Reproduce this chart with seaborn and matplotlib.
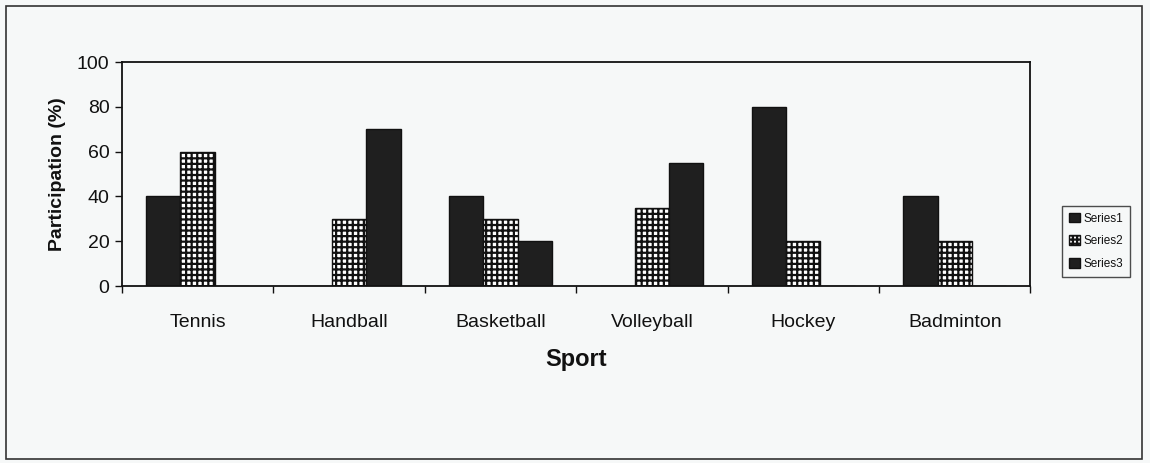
import matplotlib
matplotlib.use("Agg")
import matplotlib.pyplot as plt
from matplotlib.patches import Patch, Rectangle
import pandas as pd
import seaborn as sns

sports = ["Tennis", "Handball", "Basketball", "Volleyball", "Hockey", "Badminton"]
series1 = [40, 0, 40, 0, 80, 40]
series2 = [60, 30, 30, 35, 20, 20]
series3 = [0, 70, 20, 55, 0, 0]
series_names = ["Series1", "Series2", "Series3"]

df = pd.DataFrame({
    "Sport": sports * 3,
    "value": series1 + series2 + series3,
    "series": [s for s in series_names for _ in sports],
})

sns.set_style("white")
plt.rcParams["font.family"] = ["Liberation Sans", "DejaVu Sans"]
plt.rcParams["hatch.linewidth"] = 1.6
plt.rcParams["hatch.color"] = "#111111"
plt.rcParams["text.color"] = "#111111"
plt.rcParams["axes.labelcolor"] = "#111111"
plt.rcParams["xtick.color"] = "#111111"
plt.rcParams["ytick.color"] = "#111111"

bg = "#f6f8f8"
dark = "#1f1f1f"
fig = plt.figure(figsize=(11.5, 4.63), dpi=100, facecolor=bg)
ax = fig.add_axes([0.106, 0.382, 0.790, 0.484])
ax.set_facecolor(bg)

sns.barplot(data=df, x="Sport", y="value", hue="series", order=sports,
            hue_order=series_names, palette=[dark, "white", dark],
            width=0.68, gap=0, saturation=1, edgecolor="#111111",
            linewidth=1.0, legend=False, ax=ax)

# Series2 gets the checked fill
for p in ax.containers[1]:
    p.set_hatch("+++")

ax.set_ylim(0, 100)
ax.set_xlim(-0.5, 5.5)
ax.set_yticks([0, 20, 40, 60, 80, 100])
ax.tick_params(axis="y", left=True, labelsize=14, length=5, width=1, pad=4)
ax.set_xticks(range(len(sports)))
ax.set_xticklabels(sports, fontsize=14)
ax.set_xticks([i - 0.5 for i in range(len(sports) + 1)], minor=True)
ax.tick_params(axis="x", which="major", bottom=False, length=0, pad=20)
ax.tick_params(axis="x", which="minor", bottom=True, length=5, width=1, direction="out")
for s in ax.spines.values():
    s.set_visible(True)
    s.set_color("#111111")
    s.set_linewidth(1.3)

ax.set_xlabel("Sport", fontsize=17, fontweight="bold", labelpad=12)
ax.set_ylabel("Participation (%)", fontsize=14, fontweight="bold", labelpad=8)

handles = [Patch(facecolor=dark, edgecolor="#111111"),
           Patch(facecolor="white", edgecolor="#111111", hatch="++++"),
           Patch(facecolor=dark, edgecolor="#111111")]
leg = fig.legend(handles, series_names, loc="center", bbox_to_anchor=(0.953, 0.479),
                 fontsize=8.5, frameon=True, fancybox=False, handlelength=0.9,
                 handleheight=0.9, handletextpad=0.3, labelspacing=0.9,
                 borderpad=0.6, facecolor=bg, edgecolor="#222222")
leg.get_frame().set_linewidth(1.0)

fig.patches.append(Rectangle((0.005, 0.008), 0.988, 0.98, transform=fig.transFigure,
                             fill=False, edgecolor="#333333", linewidth=1.2))

fig.savefig("out.png", dpi=100, facecolor=bg)
